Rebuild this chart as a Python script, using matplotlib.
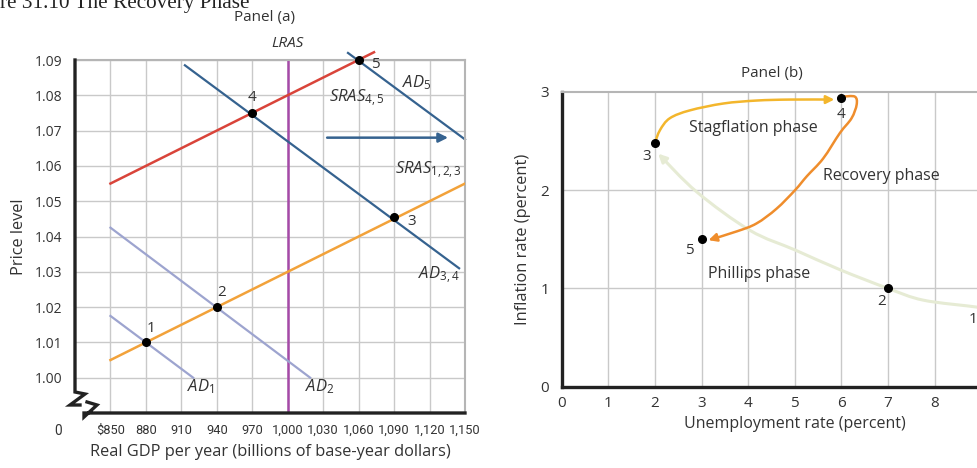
import numpy as np
import matplotlib
matplotlib.use("Agg")
import matplotlib.pyplot as plt
from matplotlib.path import Path
from matplotlib.patches import FancyArrowPatch

plt.rcParams['font.family'] = ['Open Sans', 'DejaVu Sans']
plt.rcParams['mathtext.fontset'] = 'custom'
plt.rcParams['mathtext.it'] = 'Open Sans:italic'
plt.rcParams['mathtext.rm'] = 'Open Sans'

# ---- panel (a) data ----
gdp_ticks = [850, 880, 910, 940, 970, 1000, 1030, 1060, 1090, 1120, 1150]
gdp_labels = ['$850', '880', '910', '940', '970', '1,000', '1,030', '1,060', '1,090', '1,120', '1,150']
price_ticks = [1.00, 1.01, 1.02, 1.03, 1.04, 1.05, 1.06, 1.07, 1.08, 1.09]

sras123_x = [850, 1150]
sras123_y = [1.005, 1.055]
sras45_x = [850, 1073]
sras45_y = [1.055, 1.0922]
ad1_x = [850, 920]
ad1_y = [1.0175, 1.0]
ad2_x = [850, 1019]
ad2_y = [1.0425, 1.0]
ad34_x = [913, 1145]
ad34_y = [1.0885, 1.031]
ad5_x = [1051, 1150]
ad5_y = [1.092, 1.0675]
lras_x = 1000

eq_gdp = [880, 940, 1090, 970, 1060]
eq_price = [1.01, 1.02, 1.0455, 1.075, 1.09]

# ---- panel (b) data ----
unemp_pts = [9.0, 7.0, 2.0, 6.0, 3.0]
infl_pts = [0.8, 1.0, 2.48, 2.94, 1.5]

phillips_u = [9.0, 8.9, 7.76, 7.0, 5.97, 5.01, 4.04, 2.9, 2.07]
phillips_i = [0.79, 0.81, 0.88, 1.0, 1.19, 1.39, 1.59, 1.98, 2.37]

stag_u = [2.0, 2.11, 2.32, 2.75, 3.47, 4.18, 4.9, 5.85]
stag_i = [2.48, 2.61, 2.73, 2.81, 2.88, 2.91, 2.92, 2.92]

recov_u = [6.04, 6.29, 6.33, 6.22, 5.97, 5.61, 5.26, 5.01, 4.61, 4.18, 3.76, 3.15]
recov_i = [2.95, 2.95, 2.87, 2.73, 2.58, 2.32, 2.14, 2.0, 1.81, 1.66, 1.58, 1.49]

grid_c = '#c9c9c9'
txt_c = '#333333'
narrow = ['Roboto', 'DejaVu Sans']

fig = plt.figure(figsize=(9.77, 4.68), dpi=100)

fig.text(0.0, 1 - 8 / 468, 're 31.10 The Recovery Phase', family='Liberation Serif',
         fontsize=15.3, va='baseline', ha='left', color='#222222')

# ================= panel (a) =================
ax = fig.add_axes([75 / 977, 1 - 413 / 468, 390 / 977, 353 / 468])
ax.set_xlim(820, 1150)
ax.set_ylim(0.99, 1.09)
for g in gdp_ticks:
    ax.axvline(g, color=grid_c, lw=1, zorder=0)
for p in price_ticks:
    ax.axhline(p, color=grid_c, lw=1, zorder=0)

ax.plot([lras_x, lras_x], [0.99, 1.09], color='#a54aa8', lw=1.8, zorder=2)
ax.plot(ad1_x, ad1_y, color='#9da4cf', lw=1.6, zorder=2)
ax.plot(ad2_x, ad2_y, color='#9da4cf', lw=1.6, zorder=2)
ax.plot(ad34_x, ad34_y, color='#35628f', lw=1.6, zorder=2)
ax.plot(ad5_x, ad5_y, color='#35628f', lw=1.6, zorder=2, clip_on=False)
ax.plot(sras123_x, sras123_y, color='#f2a23a', lw=1.8, zorder=3)
ax.plot(sras45_x, sras45_y, color='#d9443a', lw=1.8, zorder=3, clip_on=False)
ax.annotate('', xy=(1138, 1.068), xytext=(1031, 1.068),
            arrowprops=dict(arrowstyle='-|>', color='#35628f', lw=1.8, mutation_scale=14))
ax.plot(eq_gdp, eq_price, 'o', color='black', ms=5.5, zorder=5, clip_on=False)

num_kw = dict(color=txt_c, fontsize=11, ha='center', va='center')
lab_kw = dict(color=txt_c, fontsize=12, ha='center', va='center')
ax.text(884, 1.0139, '1', **num_kw)
ax.text(944, 1.0242, '2', **num_kw)
ax.text(1105, 1.0442, '3', **num_kw)
ax.text(970, 1.0795, '4', **num_kw)
ax.text(1074, 1.0888, '5', **num_kw)
ax.text(926, 0.9975, '$AD_1$', **lab_kw)
ax.text(1027, 0.9975, '$AD_2$', **lab_kw)
ax.text(1128, 1.029, '$AD_{3,4}$', **lab_kw)
ax.text(1109, 1.0836, '$AD_5$', **lab_kw)
ax.text(1058, 1.079, '$SRAS_{4,5}$', **lab_kw)
ax.text(1119, 1.0587, '$SRAS_{1,2,3}$', **lab_kw)
ax.text(1000, 1.0948, 'LRAS', style='italic', clip_on=False, color=txt_c, fontsize=11,
        ha='center', va='center')

ax.set_xticks(gdp_ticks)
ax.set_xticklabels(gdp_labels, family=narrow, fontsize=9.3)
ax.set_yticks(price_ticks)
ax.set_yticklabels(['%.2f' % p for p in price_ticks], fontsize=10)
ax.tick_params(length=0, colors=txt_c, pad=8)
ax.tick_params(axis='y', pad=9)
ax.annotate('0', xy=(806, 0.99), xytext=(0, -8), textcoords='offset points', family=narrow,
            ha='center', va='top', fontsize=9.8, color=txt_c, annotation_clip=False)
ax.set_xlabel('Real GDP per year (billions of base-year dollars)', fontsize=11.8, color=txt_c, labelpad=5)
ax.set_ylabel('Price level', fontsize=11.8, color=txt_c, labelpad=6)

for s in ['top', 'right']:
    ax.spines[s].set_color('#b5b5b5')
    ax.spines[s].set_linewidth(1.5)
ax.spines['left'].set_visible(False)
ax.spines['bottom'].set_visible(False)

# left/bottom axis with the break mark
W, H = 390.0, 353.0
def fr(px, py):
    return ((px - 75) / W, (413 - py) / H)
left_line = [fr(75, 60), fr(75, 392), fr(85, 394), fr(70, 405), fr(80, 405)]
bot_line = [fr(87, 402), fr(97, 405), fr(84, 417), fr(84, 413), fr(465, 413)]
for seg in (left_line, bot_line):
    xs, ys = zip(*seg)
    ax.plot(xs, ys, transform=ax.transAxes, color='#222222', lw=2.4, clip_on=False,
            solid_joinstyle='miter', zorder=6)

fig.text(265 / 977, 1 - 18 / 468, 'Panel (a)', fontsize=11, color=txt_c, ha='center', va='center')

# ================= panel (b) =================
bx = fig.add_axes([561.7 / 977, 1 - 386.7 / 468, 466 / 977, 295 / 468])
bx.set_xlim(0, 10)
bx.set_ylim(0, 3)
for u in range(1, 10):
    bx.axvline(u, color=grid_c, lw=1, zorder=0)
for i in (1, 2):
    bx.axhline(i, color=grid_c, lw=1, zorder=0)


def curve(xs, ys, color, lw):
    # smooth path through the read points (Catmull-Rom drawn as cubic Bezier)
    P = np.column_stack([xs, ys])
    n = len(P)
    verts = [P[0]]
    codes = [Path.MOVETO]
    for k in range(n - 1):
        p0 = P[max(k - 1, 0)]
        p1 = P[k]
        p2 = P[k + 1]
        p3 = P[min(k + 2, n - 1)]
        verts += [p1 + (p2 - p0) / 6, p2 - (p3 - p1) / 6, p2]
        codes += [Path.CURVE4] * 3
    arr = FancyArrowPatch(path=Path(verts, codes), arrowstyle='-|>',
                          mutation_scale=12, color=color, lw=lw, zorder=3,
                          joinstyle='round', capstyle='round')
    bx.add_patch(arr)


curve(phillips_u, phillips_i, '#e6ebd4', 2.2)
curve(stag_u, stag_i, '#f3b62c', 1.8)
curve(recov_u, recov_i, '#ef8d2c', 1.8)
bx.plot(unemp_pts, infl_pts, 'o', color='black', ms=5.5, zorder=5)

bx.text(8.82, 0.68, '1', **num_kw)
bx.text(6.87, 0.87, '2', **num_kw)
bx.text(1.83, 2.34, '3', **num_kw)
bx.text(6.0, 2.77, '4', **num_kw)
bx.text(2.75, 1.39, '5', **num_kw)
ph_kw = dict(color=txt_c, fontsize=11.5, ha='center', va='center')
bx.text(4.11, 2.63, 'Stagflation phase', **ph_kw)
bx.text(6.87, 2.14, 'Recovery phase', **ph_kw)
bx.text(4.23, 1.15, 'Phillips phase', **ph_kw)

bx.set_xticks(range(0, 11))
bx.set_yticks([0, 1, 2, 3])
bx.tick_params(length=0, labelsize=11, colors=txt_c, pad=7)
bx.tick_params(axis='y', pad=9)
bx.set_xlabel('Unemployment rate (percent)', fontsize=11.5, color=txt_c, labelpad=3)
bx.set_ylabel('Inflation rate (percent)', fontsize=11.8, color=txt_c, labelpad=7)
for s in ['top', 'right']:
    bx.spines[s].set_color('#b5b5b5')
    bx.spines[s].set_linewidth(1.5)
for s in ['left', 'bottom']:
    bx.spines[s].set_color('#222222')
    bx.spines[s].set_linewidth(2.4)

fig.text(771.7 / 977, 1 - 73.3 / 468, 'Panel (b)', fontsize=11, color=txt_c, ha='center', va='center')

fig.savefig('out.png', dpi=100)
